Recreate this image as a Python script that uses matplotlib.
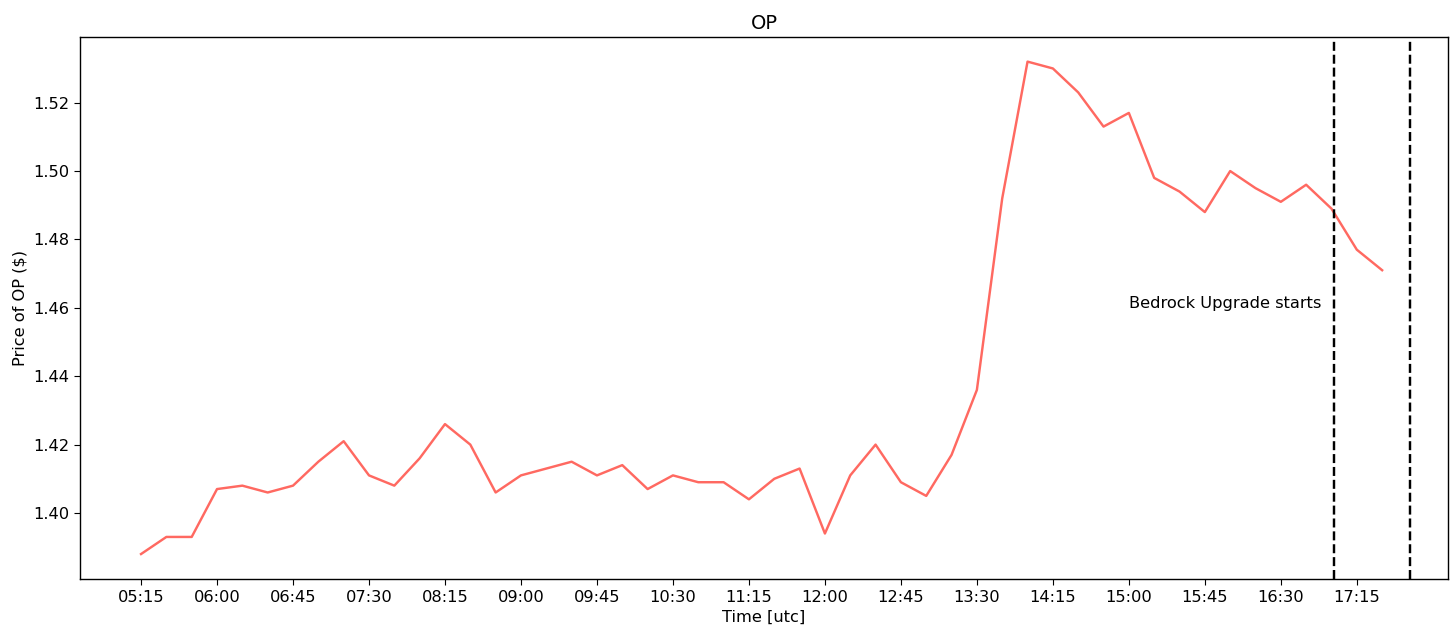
import matplotlib
matplotlib.use('Agg')
import matplotlib.pyplot as plt

times = ['05:15', '05:30', '05:45', '06:00', '06:15', '06:30', '06:45', '07:00', '07:15', '07:30',
         '07:45', '08:00', '08:15', '08:30', '08:45', '09:00', '09:15', '09:30', '09:45', '10:00',
         '10:15', '10:30', '10:45', '11:00', '11:15', '11:30', '11:45', '12:00', '12:15', '12:30',
         '12:45', '13:00', '13:15', '13:30', '13:45', '14:00', '14:15', '14:30', '14:45', '15:00',
         '15:15', '15:30', '15:45', '16:00', '16:15', '16:30', '16:45', '17:00', '17:15', '17:30']
price = [1.388, 1.393, 1.393, 1.407, 1.408, 1.406, 1.408, 1.415, 1.421, 1.411,
         1.408, 1.416, 1.426, 1.420, 1.406, 1.411, 1.413, 1.415, 1.411, 1.414,
         1.407, 1.411, 1.409, 1.409, 1.404, 1.410, 1.413, 1.394, 1.411, 1.420,
         1.409, 1.405, 1.417, 1.436, 1.492, 1.532, 1.530, 1.523, 1.513, 1.517,
         1.498, 1.494, 1.488, 1.500, 1.495, 1.491, 1.496, 1.489, 1.477, 1.471]
event_lines = [47.1, 50.1]   # position on the 15-minute grid
label_pos = 39               # "15:00"

x = list(range(len(times)))

# the original was rendered at a higher dpi, so scale text and ticks up
plt.rcParams['font.size'] = 11.7
plt.rcParams['xtick.major.size'] = 4.1
plt.rcParams['ytick.major.size'] = 4.1
plt.rcParams['axes.linewidth'] = 1.0

fig, ax = plt.subplots(figsize=(14.56, 6.37), dpi=100)
ax.plot(x, price, color='#ff6961', linewidth=1.75)
for xv in event_lines:
    ax.axvline(xv, color='black', linestyle='--', linewidth=1.75)
ax.text(label_pos, 1.46, 'Bedrock Upgrade starts')

ax.set_xticks(x[::3])
ax.set_xticklabels(times[::3])
ax.set_xlim(-2.41, 51.6)
ax.set_ylim(1.3807, 1.5392)
ax.set_yticks([1.40, 1.42, 1.44, 1.46, 1.48, 1.50, 1.52])
ax.set_title('OP', fontsize=14)
ax.set_xlabel('Time [utc]')
ax.set_ylabel('Price of OP ($)')

plt.subplots_adjust(left=80/1456, right=1448/1456, top=1 - 37/637, bottom=1 - 579/637)
plt.savefig('out.png')
